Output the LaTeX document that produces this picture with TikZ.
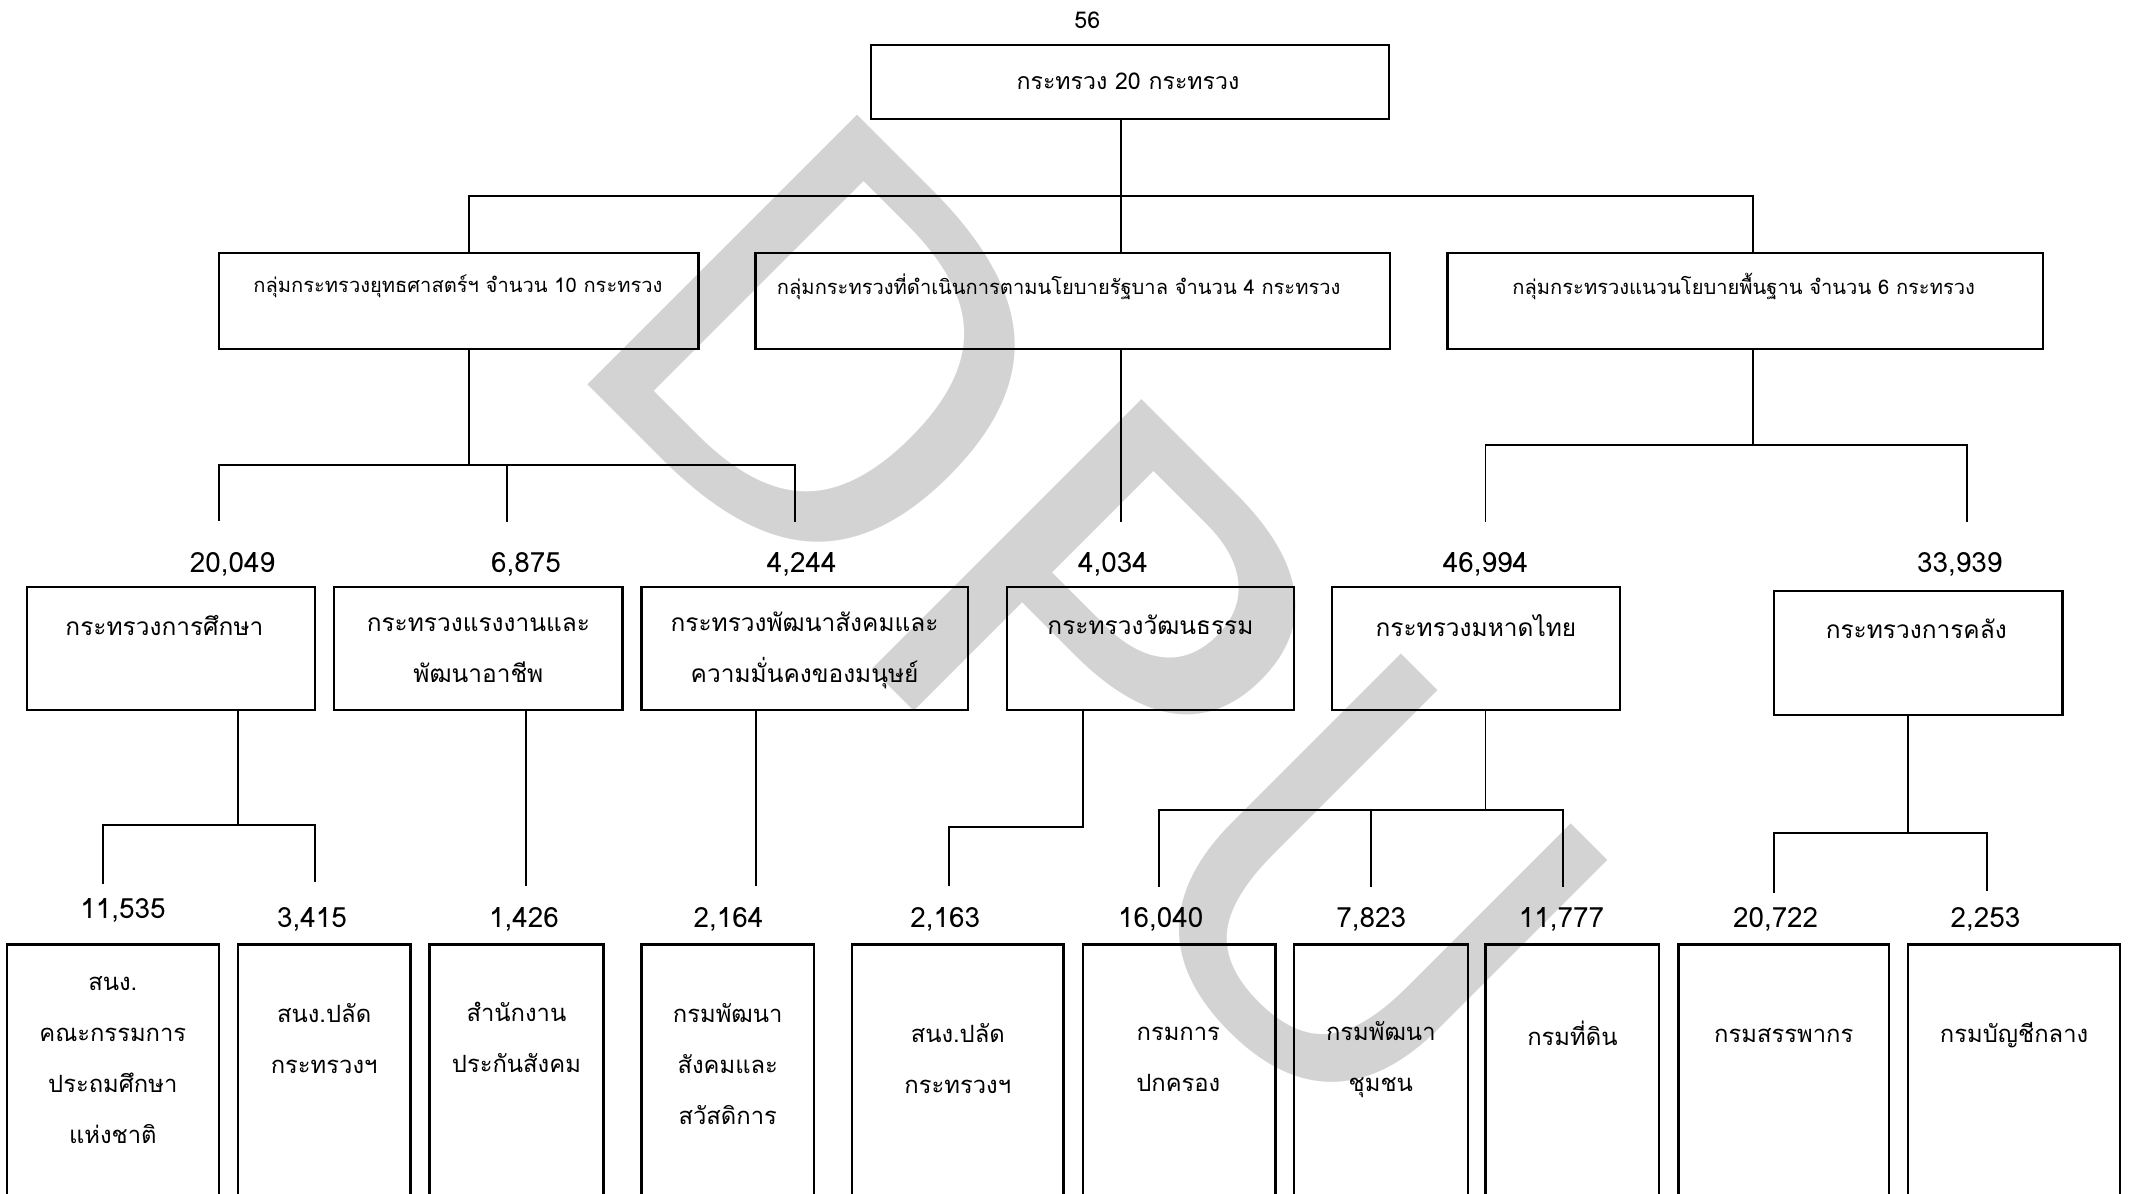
\documentclass[tikz,border=0pt]{standalone}
\usepackage{fontspec}
\newfontfamily\thaifont[Script=Thai]{Loma}
\newfontfamily\wmfont{DejaVu Sans}
\usepackage{tikz}
\definecolor{wmgray}{RGB}{211,211,211}

\begin{document}
\begin{tikzpicture}[x=1pt,y=1pt,yscale=-1,
  box/.style={draw,line width=1.7pt,inner sep=0pt},
  grpbox/.style={box,minimum height=71pt},
  minbox/.style={box,minimum width=212pt,minimum height=90.5pt},
  unitbox/.style={box,anchor=north,minimum height=230pt},
  lbl/.style={font=\thaifont\fontsize{18}{37.5}\selectfont,align=center,inner sep=0pt},
  unitlbl/.style={lbl,font=\thaifont\fontsize{17.5}{37.7}\selectfont},
  grplbl/.style={font=\thaifont\fontsize{14.8}{20}\selectfont,inner sep=0pt},
  num/.style={font=\thaifont\fontsize{20.5}{24}\selectfont,inner sep=0pt},
  conn/.style={line width=1.4pt},
  wmark/.style={text=wmgray,font=\wmfont\fontsize{385}{385}\selectfont,rotate=-45,inner sep=0pt}]
\useasboundingbox (0,0) rectangle (1568,878);
\clip (0,0) rectangle (1568,878);

% Watermark
\node[wmark] (wmD) at (610,262) {D};
\node[wmark,xscale=1.15] (wmP) at (805,457) {P};
\node[wmark] (wmU) at (1006,658) {U};

% Page number
\node[num,font=\thaifont\fontsize{17}{20}\selectfont] (page) at (800,15) {56};

%Shape: Rectangle (top)
\node[box,minimum width=381pt,minimum height=54.5pt] (root) at (831.5,60.25) {};
\node[grplbl,font=\thaifont\fontsize{17}{20}\selectfont] (tRoot) at (830,60) {กระทรวง 20 กระทรวง};

%Shape: Rectangle (groups)
\node[grpbox,minimum width=353pt] (grpStrat) at (337.5,221.5) {};
\node[grpbox,minimum width=467pt] (grpGov) at (789.5,221.5) {};
\node[grpbox,minimum width=438pt] (grpBase) at (1284,221.5) {};
\node[grplbl] (tStrat) at (337,211) {กลุ่มกระทรวงยุทธศาสตร์ฯ จำนวน 10 กระทรวง};
\node[grplbl] (tGov) at (779,211) {กลุ่มกระทรวงที่ดำเนินการตามนโยบายรัฐบาล จำนวน 4 กระทรวง};
\node[grplbl] (tBase) at (1283,211) {กลุ่มกระทรวงแนวนโยบายพื้นฐาน จำนวน 6 กระทรวง};

%Shape: Rectangle (ministries)
\node[minbox] (moe) at (126,477.25) {};
\node[minbox] (mol) at (352,477.25) {};
\node[minbox,minimum width=240pt] (msd) at (592,477.25) {};
\node[minbox,minimum width=211pt] (mcu) at (846.5,477.25) {};
\node[minbox] (moi) at (1086,477.25) {};
\node[minbox,minimum height=91pt] (mof) at (1411.5,480.5) {};
\node[lbl] (tMoe) at (121,460) {กระทรวงการศึกษา};
\node[lbl] (tMol) at (352,478.5) {กระทรวงแรงงานและ\\พัฒนาอาชีพ};
\node[lbl] (tMsd) at (592,478.5) {กระทรวงพัฒนาสังคมและ\\ความมั่นคงของมนุษย์};
\node[lbl] (tMcu) at (846.5,460) {กระทรวงวัฒนธรรม};
\node[lbl] (tMoi) at (1086,460) {กระทรวงมหาดไทย};
\node[lbl] (tMof) at (1410,463) {กระทรวงการคลัง};

%Shape: Rectangle (departments)
\node[unitbox,minimum width=156pt] (obec) at (83,694) {};
\node[unitbox,minimum width=127pt] (opsMoe) at (238.5,694) {};
\node[unitbox,minimum width=128pt] (sso) at (380,694) {};
\node[unitbox,minimum width=127pt] (dsdw) at (535.5,694) {};
\node[unitbox,minimum width=155.5pt] (opsMcu) at (704.75,694) {};
\node[unitbox,minimum width=141.5pt] (dopa) at (867.75,694) {};
\node[unitbox,minimum width=128pt] (cdd) at (1016,694) {};
\node[unitbox,minimum width=127.5pt] (dol) at (1156.75,694) {};
\node[unitbox,minimum width=155pt] (rd) at (1312.5,694) {};
\node[unitbox,minimum width=156pt] (cgd) at (1482,694) {};
\node[unitlbl] (tObec) at (83,780) {สนง.\\คณะกรรมการ\\ประถมศึกษา\\แห่งชาติ};
\node[unitlbl] (tOpsMoe) at (238.5,764) {สนง.ปลัด\\กระทรวงฯ};
\node[unitlbl] (tSso) at (380,763.5) {สำนักงาน\\ประกันสังคม};
\node[unitlbl] (tDsdw) at (535.5,783) {กรมพัฒนา\\สังคมและ\\สวัสดิการ};
\node[unitlbl] (tOpsMcu) at (704.75,779) {สนง.ปลัด\\กระทรวงฯ};
\node[unitlbl] (tDopa) at (867,779.5) {กรมการ\\ปกครอง};
\node[unitlbl] (tCdd) at (1016,779.5) {กรมพัฒนา\\ชุมชน};
\node[unitlbl] (tDol) at (1157,760) {กรมที่ดิน};
\node[unitlbl] (tRd) at (1312.5,762) {กรมสรรพากร};
\node[unitlbl] (tCgd) at (1482,762) {กรมบัญชีกลาง};

% Text Node (numbers)
\node[num] (nMoe) at (171,415) {20,049};
\node[num] (nMol) at (387,415) {6,875};
\node[num] (nMsd) at (590,415) {4,244};
\node[num] (nMcu) at (819,415) {4,034};
\node[num] (nMoi) at (1093,415) {46,994};
\node[num] (nMof) at (1442,415) {33,939};
\node[num] (nObec) at (90.5,670) {11,535};
\node[num] (nOpsMoe) at (229.5,676.5) {3,415};
\node[num] (nSso) at (385.5,676.5) {1,426};
\node[num] (nDsdw) at (536,676.5) {2,164};
\node[num] (nOpsMcu) at (695.5,676.5) {2,163};
\node[num] (nDopa) at (854,676.5) {16,040};
\node[num] (nCdd) at (1009,676.5) {7,823};
\node[num] (nDol) at (1149,676.5) {11,777};
\node[num] (nRd) at (1306.5,676.5) {20,722};
\node[num] (nCgd) at (1461,676.5) {2,253};

%Straight Lines (junctions and drops)
\coordinate (j0) at (825,144);
\coordinate (j0a) at (345,144);
\coordinate (j0c) at (1290,144);
\coordinate (j1) at (345,342);
\coordinate (j2) at (1290,327.5);
\coordinate (j3) at (175,607);
\coordinate (j4) at (797,608.5);
\coordinate (j5) at (1093,596);
\coordinate (j6) at (1404,612.7);
\coordinate (dMoe) at (161,383);
\coordinate (dMol) at (373,384);
\coordinate (dMsd) at (585,384);
\coordinate (dMcu) at (825,384);
\coordinate (dMoi) at (1093,384);
\coordinate (dMof) at (1447,384);
\coordinate (dObec) at (75.5,650.5);
\coordinate (dOpsMoe) at (232,649);
\coordinate (dSso) at (387,652);
\coordinate (dDsdw) at (556.5,652);
\coordinate (dOpsMcu) at (698,652);
\coordinate (dDopa) at (853,652.7);
\coordinate (dCdd) at (1008.7,652.7);
\coordinate (dDol) at (1150,652.7);
\coordinate (dRd) at (1305.5,657);
\coordinate (dCgd) at (1462,655.7);

\draw[conn] (root.south -| j0) -- (j0);
\draw[conn] (grpStrat.north -| j0a) |- (j0) -| (grpBase.north -| j0c);
\draw[conn] (j0) -- (grpGov.north -| j0);

\draw[conn] (grpStrat.south -| j1) -- (j1);
\draw[conn] (dMoe) |- (j1) -| (dMsd);
\draw[conn] (j1 -| dMol) -- (dMol);
\draw[conn] (grpGov.south -| dMcu) -- (dMcu);
\draw[conn] (grpBase.south -| j2) -- (j2);
\draw[conn] (dMoi) |- (j2) -| (dMof);

\draw[conn] (moe.south -| j3) -- (j3);
\draw[conn] (dObec) |- (j3) -| (dOpsMoe);
\draw[conn] (mol.south -| dSso) -- (dSso);
\draw[conn] (msd.south -| dDsdw) -- (dDsdw);
\draw[conn] (mcu.south -| j4) -- (j4) -| (dOpsMcu);
\draw[conn] (moi.south -| j5) -- (j5);
\draw[conn] (dDopa) |- (j5) -| (dDol);
\draw[conn] (j5 -| dCdd) -- (dCdd);
\draw[conn] (mof.south -| j6) -- (j6);
\draw[conn] (dRd) |- (j6) -| (dCgd);

\end{tikzpicture}
\end{document}
